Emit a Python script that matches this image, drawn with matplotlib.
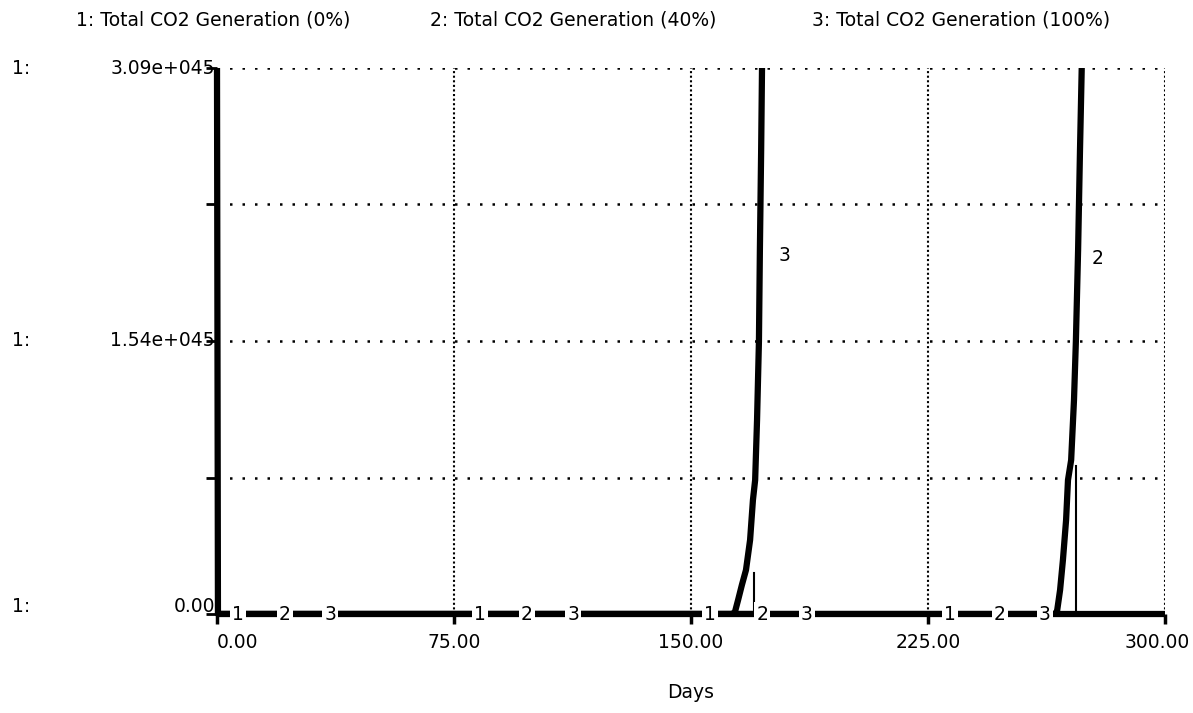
#!/usr/bin/env python3

import numpy as np
import matplotlib.pyplot as plt
import matplotlib.transforms as mtransforms

# values, CO2 in units of 1e45
y_max = 3.09

# 1: Total CO2 Generation (0%)
s1_days = [0.0, 0.3, 300.0]
s1_vals = [3.09, 0.0, 0.0]

# 2: Total CO2 Generation (40%)
s2_days = [0.0, 265.0, 265.8, 266.8, 267.7, 268.7, 269.3, 270.3, 271.2, 271.8, 272.5, 273.1, 273.7]
s2_vals = [0.0, 0.0, 0.011, 0.136, 0.306, 0.532, 0.758, 0.871, 1.211, 1.545, 2.06, 2.626, 3.135]
s2_edge_days = [271.8, 271.8]
s2_edge_vals = [0.0, 0.84]

# 3: Total CO2 Generation (100%)
s3_days = [0.0, 163.0, 163.9, 164.9, 166.1, 167.4, 168.7, 169.6, 170.3, 170.9, 171.5, 171.8, 172.2, 172.5]
s3_vals = [0.0, 0.0, 0.011, 0.079, 0.164, 0.249, 0.419, 0.645, 0.758, 1.098, 1.545, 2.06, 2.626, 3.135]
s3_edge_days = [169.9, 169.9]
s3_edge_vals = [0.0, 0.23]

legend_names = ['1: Total CO2 Generation (0%)',
                '2: Total CO2 Generation (40%)',
                '3: Total CO2 Generation (100%)']

# curve number labels placed along the curves
label_days = [6.6, 83.2, 156.0, 232.0, 21.5, 98.1, 172.5, 247.8, 35.8, 112.7, 186.7, 262.0, 179.7, 278.8]
label_vals = [0, 0, 0, 0, 0, 0, 0, 0, 0, 0, 0, 0, 2.03, 2.01]
label_text = ['1', '1', '1', '1', '2', '2', '2', '2', '3', '3', '3', '3', '3', '2']

x_ticks = [0, 75, 150, 225, 300]
x_ticklabels = ['0.00', '75.00', '150.00', '225.00', '300.00']
y_ticks = [0, y_max / 4, y_max / 2, 3 * y_max / 4, y_max]

fs = 13.5


def main():
    plt.rcParams['font.family'] = ['DejaVu Sans']
    fig = plt.figure(figsize=(11.93, 7.13), dpi=100)
    ax = fig.add_axes([217 / 1193, 99 / 713, 948 / 1193, 546 / 713])

    ax.set_xlim(0, 300)
    ax.set_ylim(0, y_max)
    for s in ax.spines.values():
        s.set_visible(False)

    # dotted grid: sparse dots across, dense dots down
    for yv in y_ticks[1:]:
        ax.axhline(yv, color='black', lw=1.8, ls=(0, (1, 4)), zorder=1)
    for xv in x_ticks[1:]:
        ax.axvline(xv, color='black', lw=1.5, ls=(0, (1, 1.2)), zorder=1)

    lw = 4.5
    ax.plot(s1_days, s1_vals, color='black', lw=lw, solid_capstyle='butt', zorder=3, clip_on=False)
    ax.plot(s2_days, s2_vals, color='black', lw=lw, solid_capstyle='butt', zorder=3)
    ax.plot(s3_days, s3_vals, color='black', lw=lw, solid_capstyle='butt', zorder=3)
    ax.plot(s2_edge_days, s2_edge_vals, color='black', lw=1.5, zorder=3)
    ax.plot(s3_edge_days, s3_edge_vals, color='black', lw=1.5, zorder=3)

    for d, v, t in zip(label_days, label_vals, label_text):
        ax.text(d, v, t, ha='center', va='center', fontsize=fs, zorder=4,
                bbox=dict(facecolor='white', edgecolor='none', pad=1.5))

    # ticks
    ax.set_xticks(x_ticks)
    ax.set_xticklabels(x_ticklabels, fontsize=fs)
    ax.tick_params(axis='x', direction='out', length=7, width=2.5, pad=7)
    labels = ax.get_xticklabels()
    labels[0].set_ha('left')
    labels[-1].set_ha('right')
    shift = mtransforms.ScaledTranslation(0.25, 0, fig.dpi_scale_trans)
    labels[-1].set_transform(labels[-1].get_transform() + shift)
    ax.set_yticks(y_ticks)
    ax.set_yticklabels([])
    ax.tick_params(axis='y', direction='out', length=8, width=2)

    tr = ax.get_yaxis_transform()
    ax.text(-0.002, y_max, '3.09e+045', transform=tr, ha='right', va='center', fontsize=fs)
    ax.text(-0.002, y_max / 2, '1.54e+045', transform=tr, ha='right', va='center', fontsize=fs)
    ax.text(-0.002, 0.04, '0.00', transform=tr, ha='right', va='center', fontsize=fs)
    for yv in [y_max, y_max / 2, 0.04]:
        ax.text(-0.216, yv, '1:', transform=tr, ha='left', va='center', fontsize=fs)

    ax.set_xlabel('Days', fontsize=fs, labelpad=22)

    # series names across the top
    for xpos, name in zip([76, 430, 812], legend_names):
        fig.text(xpos / 1193, 1 - 20 / 713, name, ha='left', va='center', fontsize=fs)

    fig.savefig('out.png', dpi=100)


if __name__ == "__main__":
    main()
